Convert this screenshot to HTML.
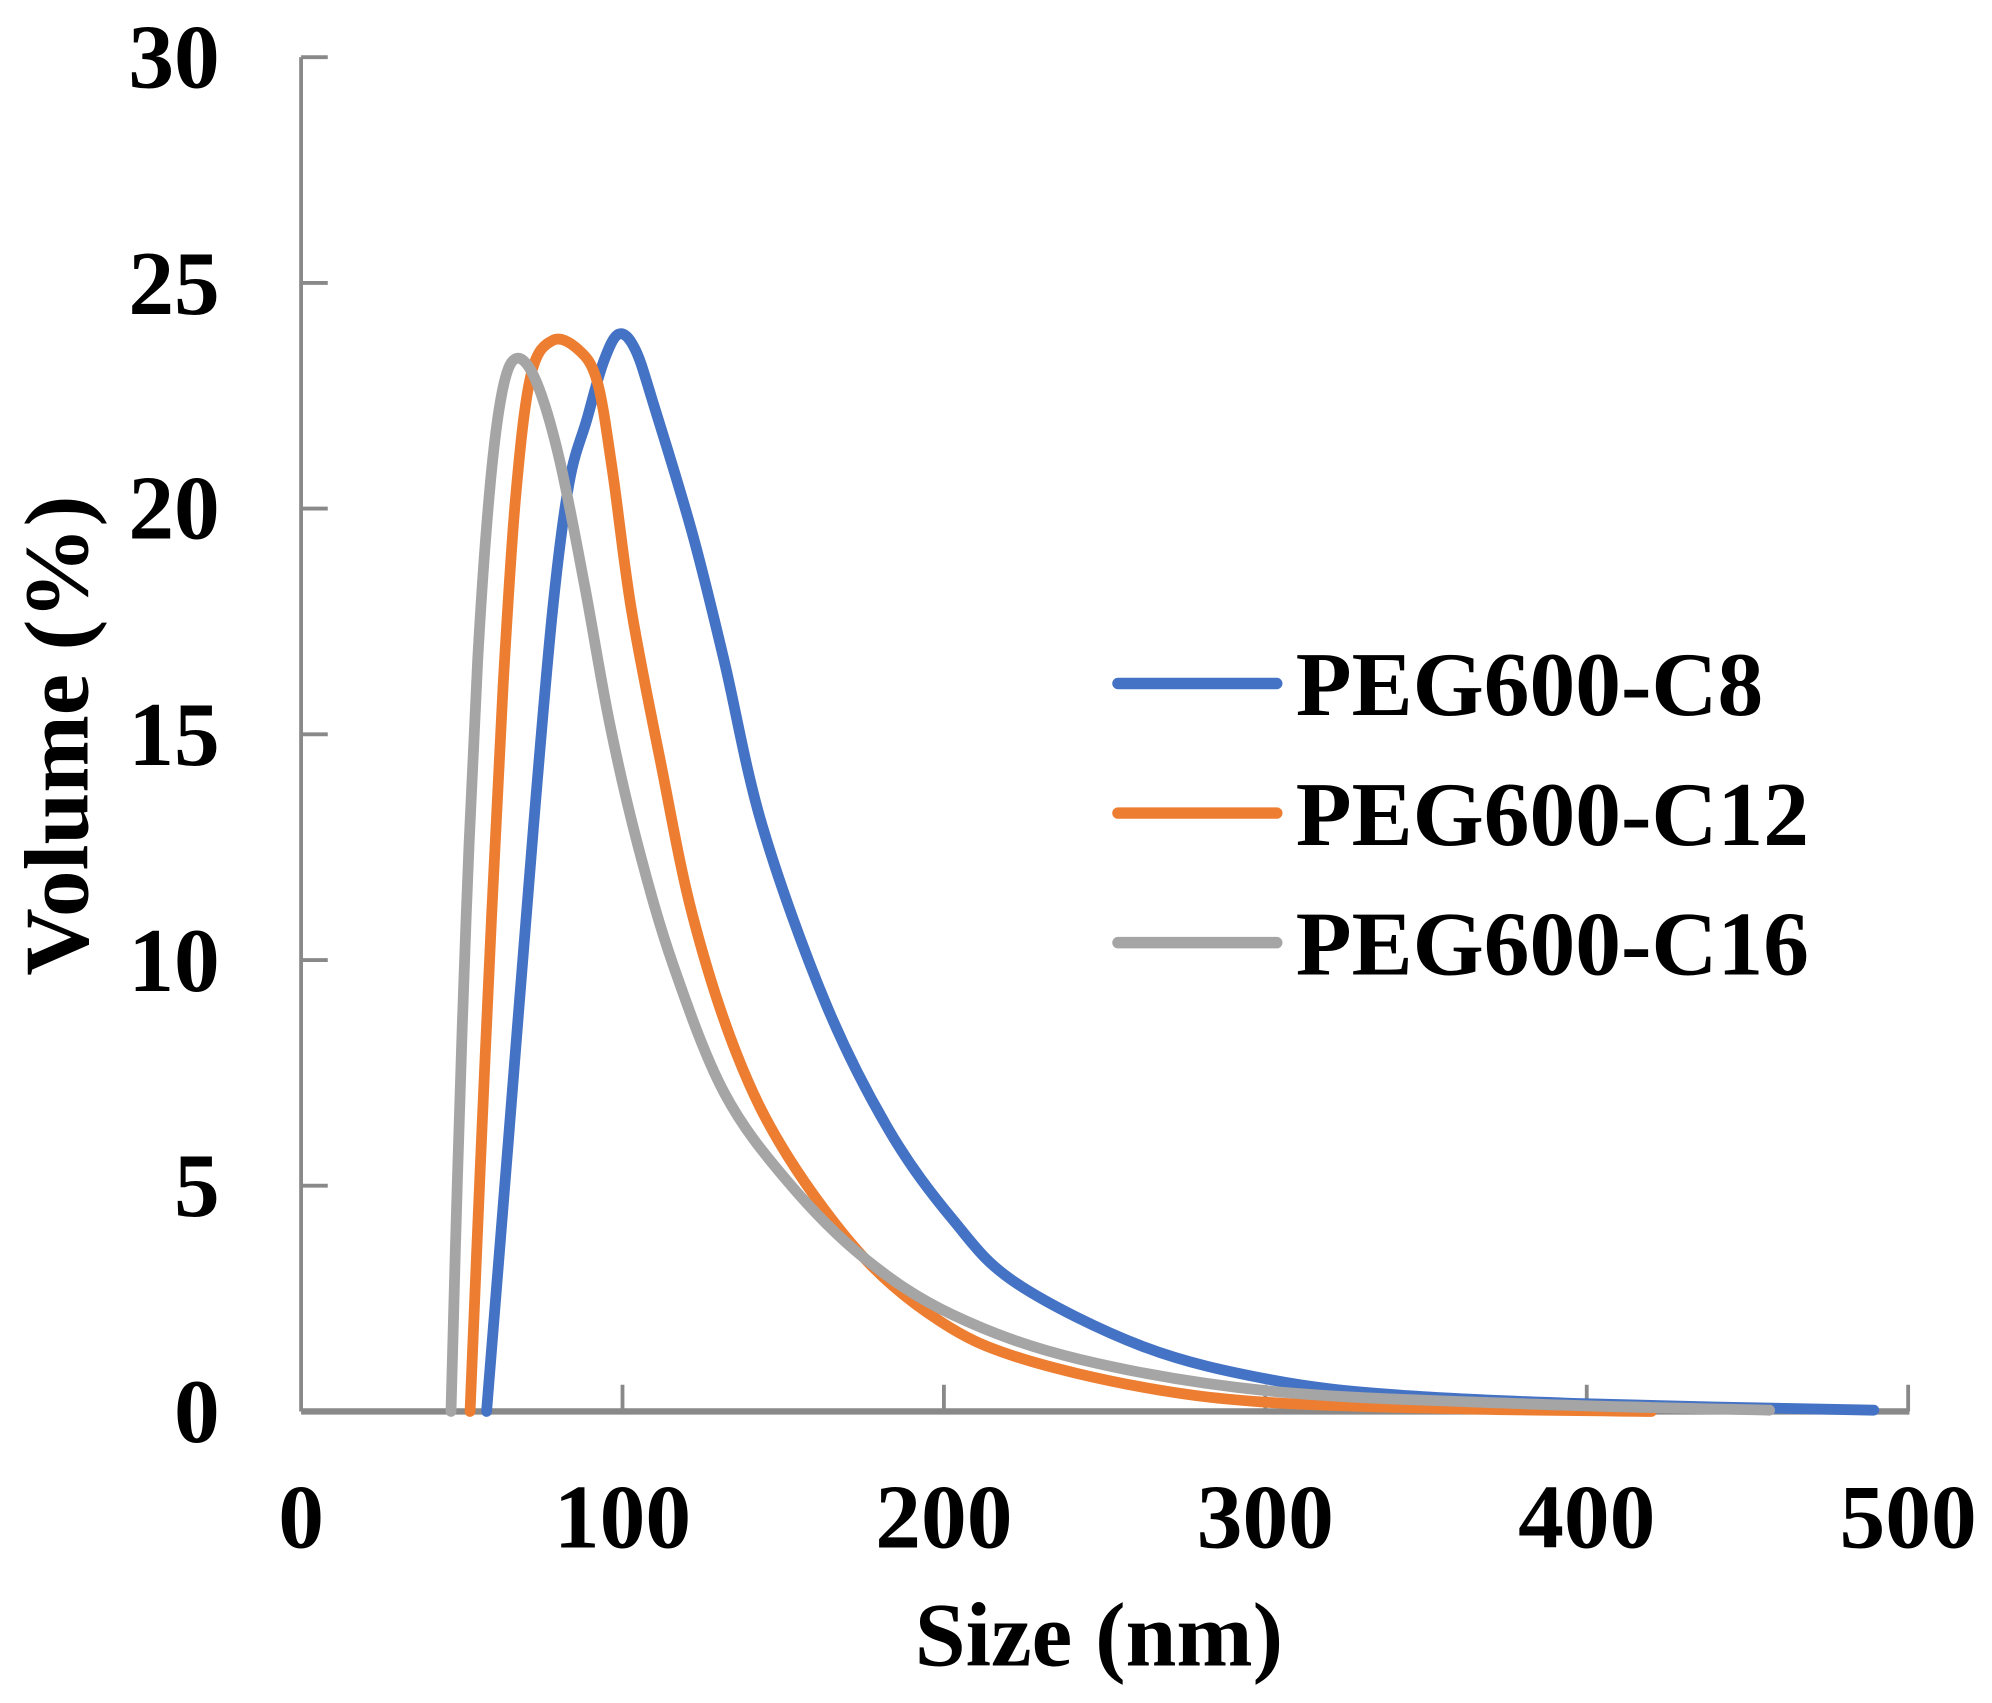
<!DOCTYPE html>
<html><head><meta charset="utf-8"><style>
html,body{margin:0;padding:0;background:#fff;}
svg{display:block;}
text{font-family:"Liberation Serif","Times New Roman",serif;font-weight:bold;fill:#000;}
</style></head><body>
<svg id="s" width="1992" height="1703" viewBox="0 0 1568 1340.5" preserveAspectRatio="none" xmlns="http://www.w3.org/2000/svg">
<g stroke="#898989" stroke-width="3" fill="none">
<line x1="237" y1="45" x2="237" y2="1111"/>
<line x1="237" y1="1111" x2="1503" y2="1111" stroke-width="5"/>
<line x1="237" y1="45" x2="258" y2="45"/>
<line x1="237" y1="222.7" x2="258" y2="222.7"/>
<line x1="237" y1="400.3" x2="258" y2="400.3"/>
<line x1="237" y1="578" x2="258" y2="578"/>
<line x1="237" y1="755.7" x2="258" y2="755.7"/>
<line x1="237" y1="933.3" x2="258" y2="933.3"/>
<line x1="490" y1="1111" x2="490" y2="1090"/>
<line x1="743" y1="1111" x2="743" y2="1090"/>
<line x1="996" y1="1111" x2="996" y2="1090"/>
<line x1="1249" y1="1111" x2="1249" y2="1090"/>
<line x1="1502" y1="1111" x2="1502" y2="1090"/>
</g>
<g font-size="72" text-anchor="end">
<text x="173" y="69">30</text>
<text x="173" y="247">25</text>
<text x="173" y="424">20</text>
<text x="173" y="602">15</text>
<text x="173" y="780">10</text>
<text x="173" y="957">5</text>
<text x="173" y="1135">0</text>
</g>
<g font-size="72" text-anchor="middle">
<text x="237" y="1218">0</text>
<text x="490" y="1218">100</text>
<text x="743" y="1218">200</text>
<text x="996" y="1218">300</text>
<text x="1249" y="1218">400</text>
<text x="1502" y="1218">500</text>
<text x="865" y="1311">Size (nm)</text>
</g>
<text font-size="72" text-anchor="middle" transform="translate(69,579) rotate(-90)" textLength="378" lengthAdjust="spacingAndGlyphs">Volume (%)</text>
<g fill="none" stroke-width="8.5" stroke-linecap="round" stroke-linejoin="round">
<path id="c8" stroke="#4472C4"/>
<path id="c12" stroke="#ED7D31"/>
<path id="c16" stroke="#A5A5A5"/>
</g>
<g stroke-width="9" stroke-linecap="round">
<line x1="880" y1="538" x2="1005" y2="538" stroke="#4472C4"/>
<line x1="880" y1="640" x2="1005" y2="640" stroke="#ED7D31"/>
<line x1="880" y1="742" x2="1005" y2="742" stroke="#A5A5A5"/>
</g>
<g font-size="72">
<text x="1020" y="563">PEG600-C8</text>
<text x="1020" y="665">PEG600-C12</text>
<text x="1020" y="767">PEG600-C16</text>
</g>
</svg>
<script>
function cr(p){var d="M"+p[0][0]+","+p[0][1];for(var i=0;i<p.length-1;i++){var a=p[i-1]||p[i],b=p[i],c=p[i+1],e=p[i+2]||c;
d+=" C"+(b[0]+(c[0]-a[0])/6)+","+(b[1]+(c[1]-a[1])/6)+" "+(c[0]-(e[0]-b[0])/6)+","+(c[1]-(e[1]-b[1])/6)+" "+c[0]+","+c[1];}return d;}
var c8=[[383,1111],[400,900],[420,650],[435,480],[448,380],[462,330],[475,285],[487,263],[500,275],[515,320],[545,420],[570,520],[600,650],[650,790],[700,890],[750,960],[800,1010],[900,1060],[1000,1086],[1100,1098],[1250,1105],[1475,1110]];
var c12=[[370,1111],[378,920],[387,720],[396,540],[406,390],[418,295],[435,268],[455,275],[470,300],[482,370],[497,480],[520,600],[545,720],[580,830],[620,910],[680,990],[740,1040],[800,1068],[900,1092],[1000,1104],[1150,1109],[1300,1111]];
var c16=[[355,1111],[360,930],[367,720],[376,520],[386,380],[396,305],[407,282],[422,300],[440,360],[460,460],[480,570],[502,665],[530,760],[570,860],[620,930],[680,990],[750,1035],[850,1070],[1000,1095],[1200,1105],[1393,1110]];
document.getElementById("c8").setAttribute("d",cr(c8));
document.getElementById("c12").setAttribute("d",cr(c12));
document.getElementById("c16").setAttribute("d",cr(c16));
</script>
</body></html>
